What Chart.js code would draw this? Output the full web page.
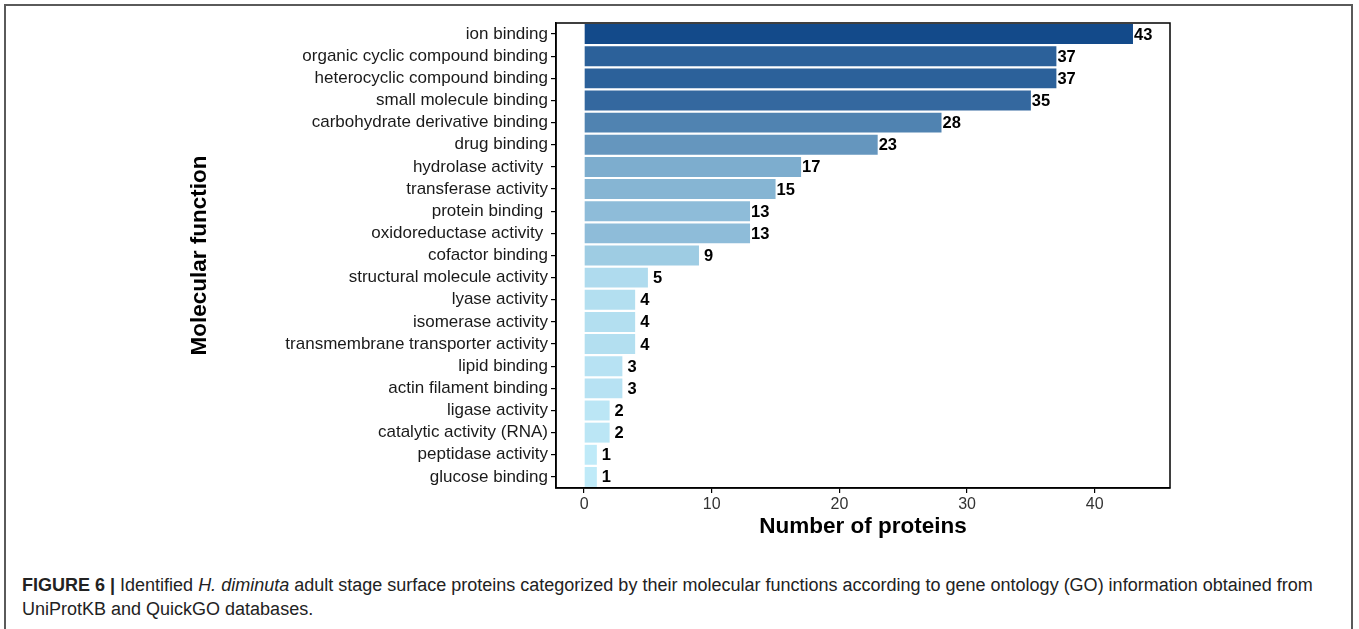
<!DOCTYPE html>
<html>
<head>
<meta charset="utf-8">
<script src="https://cdn.jsdelivr.net/npm/chart.js@4.4.1/dist/chart.umd.min.js"></script>
<style>
  html, body { margin: 0; padding: 0; background: #fff; width: 1359px; height: 629px; overflow: hidden; }
  #frame { position: absolute; left: 4px; top: 4px; width: 1345px; height: 700px;
           border-left: 2px solid #5a5a5a; border-top: 2px solid #5a5a5a; border-right: 2px solid #5a5a5a; }
  #wrap { position: absolute; left: 0; top: 0; width: 1359px; height: 545px; }
  #caption { position: absolute; left: 22px; top: 573px; width: 1322px;
             font-family: "Liberation Sans", Arial, sans-serif; font-size: 18px; line-height: 24px; color: #222; }
  #caption b { font-weight: bold; }
</style>
</head>
<body>
<div id="frame"></div>
<div id="wrap"><canvas id="c" width="1359" height="545"></canvas></div>
<div id="caption"><b>FIGURE 6 |</b> Identified <i>H. diminuta</i> adult stage surface proteins categorized by their molecular functions according to gene ontology (GO) information obtained from UniProtKB and QuickGO databases.</div>
<script>
const categories = [
  "ion binding",
  "organic cyclic compound binding",
  "heterocyclic compound binding",
  "small molecule binding",
  "carbohydrate derivative binding",
  "drug binding",
  "hydrolase activity ",
  "transferase activity",
  "protein binding ",
  "oxidoreductase activity ",
  "cofactor binding",
  "structural molecule activity",
  "lyase activity",
  "isomerase activity",
  "transmembrane transporter activity",
  "lipid binding",
  "actin filament binding",
  "ligase activity",
  "catalytic activity (RNA)",
  "peptidase activity",
  "glucose binding"
];
const proteinCounts = [43, 37, 37, 35, 28, 23, 17, 15, 13, 13, 9, 5, 4, 4, 4, 3, 3, 2, 2, 1, 1];
const xTickValues = [0, 10, 20, 30, 40];
const xTitle = "Number of proteins";
const yTitle = "Molecular function";

// fill gradient (low -> high)
const lowColor = [191, 234, 248];
const highColor = [19, 74, 138];
const vMin = Math.min(...proteinCounts), vMax = Math.max(...proteinCounts);
function fillFor(v) {
  const t = (v - vMin) / (vMax - vMin);
  const c = lowColor.map((l, i) => Math.round(l + (highColor[i] - l) * t));
  return `rgb(${c[0]},${c[1]},${c[2]})`;
}

const FONT = "'Liberation Sans', Arial, sans-serif";

const panelBorder = {
  id: 'panelBorder',
  afterDraw(chart) {
    const { ctx, chartArea: a } = chart;
    ctx.save();
    ctx.strokeStyle = '#000';
    ctx.lineWidth = 1.5;
    ctx.strokeRect(a.left, a.top, a.right - a.left, a.bottom - a.top);
    ctx.restore();
  }
};

const valueLabels = {
  id: 'valueLabels',
  afterDatasetsDraw(chart) {
    const { ctx } = chart;
    const meta = chart.getDatasetMeta(0);
    ctx.save();
    ctx.font = `bold 16.5px ${FONT}`;
    ctx.fillStyle = '#000';
    ctx.textAlign = 'left';
    ctx.textBaseline = 'middle';
    meta.data.forEach((el, i) => {
      const v = proteinCounts[i];
      const off = String(v).length === 1 ? 5 : 1;
      ctx.fillText(String(v), el.x + off, el.y + 1);
    });
    ctx.restore();
  }
};

new Chart(document.getElementById('c'), {
  type: 'bar',
  data: {
    labels: categories,
    datasets: [{
      data: proteinCounts,
      backgroundColor: proteinCounts.map(fillFor),
      borderWidth: 0,
      barPercentage: 0.9,
      categoryPercentage: 1.0
    }]
  },
  options: {
    indexAxis: 'y',
    responsive: false,
    animation: false,
    devicePixelRatio: 1,
    layout: { padding: { left: 186, right: 189, top: 23, bottom: 5 } },
    plugins: { legend: { display: false }, tooltip: { enabled: false } },
    scales: {
      x: {
        type: 'linear',
        min: -2.2,
        max: 45.9,
        afterBuildTicks(scale) { scale.ticks = xTickValues.map(v => ({ value: v })); },
        afterFit(scale) { scale.height = 52; },
        grid: { display: true, drawOnChartArea: false, drawTicks: true, tickLength: 5, color: '#000', lineWidth: 1.2 },
        border: { display: true, color: '#000', width: 1.5 },
        ticks: { color: '#333', font: { family: FONT, size: 16 }, padding: 2 },
        title: { display: true, text: xTitle, color: '#000', font: { family: FONT, size: 22.5, weight: 'bold' }, padding: { top: 0, bottom: 0 } }
      },
      y: {
        type: 'category',
        afterFit(scale) { scale.width = 556 - 186; },
        grid: { display: true, drawOnChartArea: false, drawTicks: true, tickLength: 5, color: '#000', lineWidth: 1.2, offset: false },
        border: { display: true, color: '#000', width: 1.5 },
        ticks: { color: '#1a1a1a', font: { family: FONT, size: 17 }, padding: 3, autoSkip: false },
        title: { display: true, text: yTitle, color: '#000', font: { family: FONT, size: 22.5, weight: 'bold' }, padding: { top: 0, bottom: 0 } }
      }
    }
  },
  plugins: [panelBorder, valueLabels]
});
</script>
</body>
</html>
